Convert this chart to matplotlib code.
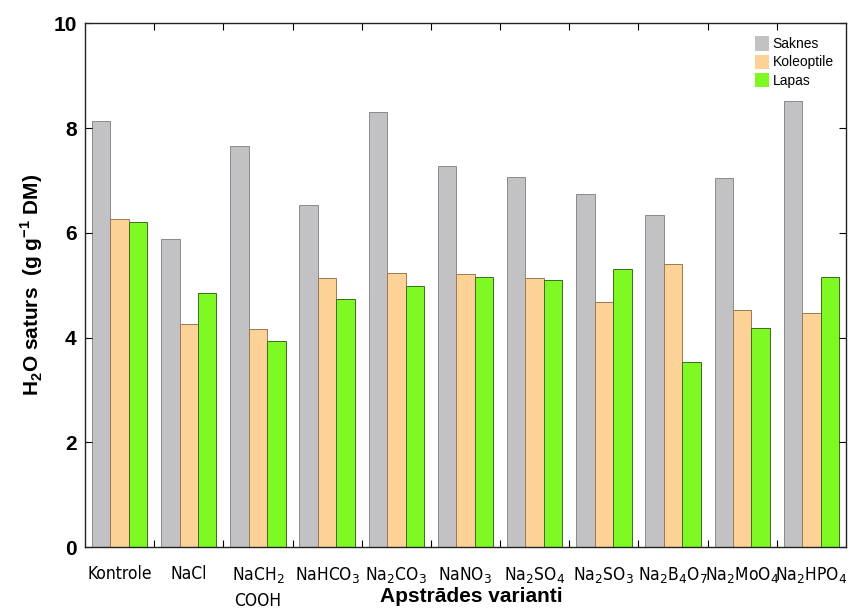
import matplotlib
matplotlib.use("Agg")
import matplotlib.pyplot as plt
from matplotlib import font_manager
import numpy as np
from matplotlib.ticker import FixedLocator

categories = ["Kontrole", "NaCl", "NaCH$_2$\nCOOH", "NaHCO$_3$", "Na$_2$CO$_3$",
              "NaNO$_3$", "Na$_2$SO$_4$", "Na$_2$SO$_3$", "Na$_2$B$_4$O$_7$",
              "Na$_2$MoO$_4$", "Na$_2$HPO$_4$"]
saknes = [8.14, 5.88, 7.66, 6.53, 8.31, 7.27, 7.07, 6.75, 6.34, 7.04, 8.52]
koleoptile = [6.27, 4.27, 4.16, 5.13, 5.24, 5.21, 5.13, 4.68, 5.40, 4.52, 4.48]
lapas = [6.21, 4.85, 3.94, 4.73, 4.99, 5.15, 5.11, 5.32, 3.53, 4.19, 5.16]
series_names = ["Saknes", "Koleoptile", "Lapas"]

# pick a condensed font if available
cond_spec = None
cond_size = 11
for f in font_manager.fontManager.ttflist:
    if f.name == 'Liberation Sans Narrow' and f.weight in (400, 'normal', 'regular'):
        cond_spec = 'Liberation Sans Narrow'
        break
if cond_spec is None:
    for f in font_manager.fontManager.ttflist:
        if ('condensed' in str(f.stretch).lower() or 'Condensed' in f.name) and \
                f.style == 'normal' and f.weight in (400, 'normal', 'regular'):
            cond_spec = f.fname
            break
if cond_spec is not None:
    cond_size = 12.5

if cond_spec is not None and cond_spec.endswith(('.ttf', '.otf', '.TTF', '.OTF')):
    tick_fp = font_manager.FontProperties(fname=cond_spec, size=cond_size)
    plt.rcParams['mathtext.rm'] = font_manager.FontProperties(fname=cond_spec).get_name()
elif cond_spec is not None:
    tick_fp = font_manager.FontProperties(family=cond_spec, size=cond_size)
    plt.rcParams['mathtext.rm'] = cond_spec
else:
    tick_fp = font_manager.FontProperties(family='Liberation Sans', size=cond_size)
    plt.rcParams['mathtext.rm'] = 'Liberation Sans'

plt.rcParams['mathtext.fontset'] = 'custom'
plt.rcParams['mathtext.bf'] = 'Liberation Sans:bold'
plt.rcParams['mathtext.default'] = 'rm'

fig = plt.figure(figsize=(8.48, 6.10), dpi=100)
ax = fig.add_axes([0.1002, 0.1028, 0.8974, 0.859])

x = np.arange(len(categories))
w = 0.8 / 3
colors = ["#c2c2c4", "#fdd297", "#7ef924"]
edges = ["#8a8a8a", "#9a7a55", "#3f6a20"]
for i, (vals, name) in enumerate(zip([saknes, koleoptile, lapas], series_names)):
    ax.bar(x + (i - 1) * w, vals, width=w, color=colors[i], edgecolor=edges[i],
           linewidth=0.7, label=name)

ax.set_xlim(-0.5, len(categories) - 0.5)
ax.set_ylim(0, 10)
ax.set_yticks([0, 2, 4, 6, 8, 10])
ax.set_yticklabels(["0", "2", "4", "6", "8", "10"], fontsize=15, fontweight='bold',
                   family='Liberation Sans')
ax.tick_params(axis='y', direction='in', right=True, length=5, width=0.8, pad=6)

ax.xaxis.set_major_locator(FixedLocator(list(np.arange(0.5, len(categories) - 0.5, 1.0))))
ax.xaxis.set_major_formatter(plt.NullFormatter())
ax.xaxis.set_minor_locator(FixedLocator(list(x)))
ax.set_xticklabels(categories, minor=True, fontproperties=tick_fp,
                   va='top', linespacing=1.45)
ax.tick_params(axis='x', which='major', direction='in', top=True, length=5, width=0.8)
ax.tick_params(axis='x', which='minor', length=0, pad=13)

for s in ax.spines.values():
    s.set_linewidth(1.0)
    s.set_color('#222222')

ax.set_ylabel("H$_\\mathbf{2}$O saturs  (g g$^{\\mathbf{-1}}$ DM)", fontsize=15,
              fontweight='bold', family='Liberation Sans')
ax.yaxis.set_label_coords(-0.052, 0.5)
ax.set_xlabel("Apstrādes varianti", fontsize=15, fontweight='bold',
              family='Liberation Sans', va='center')
ax.xaxis.set_label_coords(0.508, -0.093)

leg = ax.legend(loc='upper left', bbox_to_anchor=(0.880, 0.975), frameon=False,
                prop={'family': 'Liberation Sans', 'size': 10},
                handlelength=1.0, handleheight=1.2, handletextpad=0.3,
                labelspacing=0.25, borderpad=0, borderaxespad=0)
for h in leg.legend_handles:
    h.set_edgecolor('none')

fig.savefig("out.png", dpi=100)
